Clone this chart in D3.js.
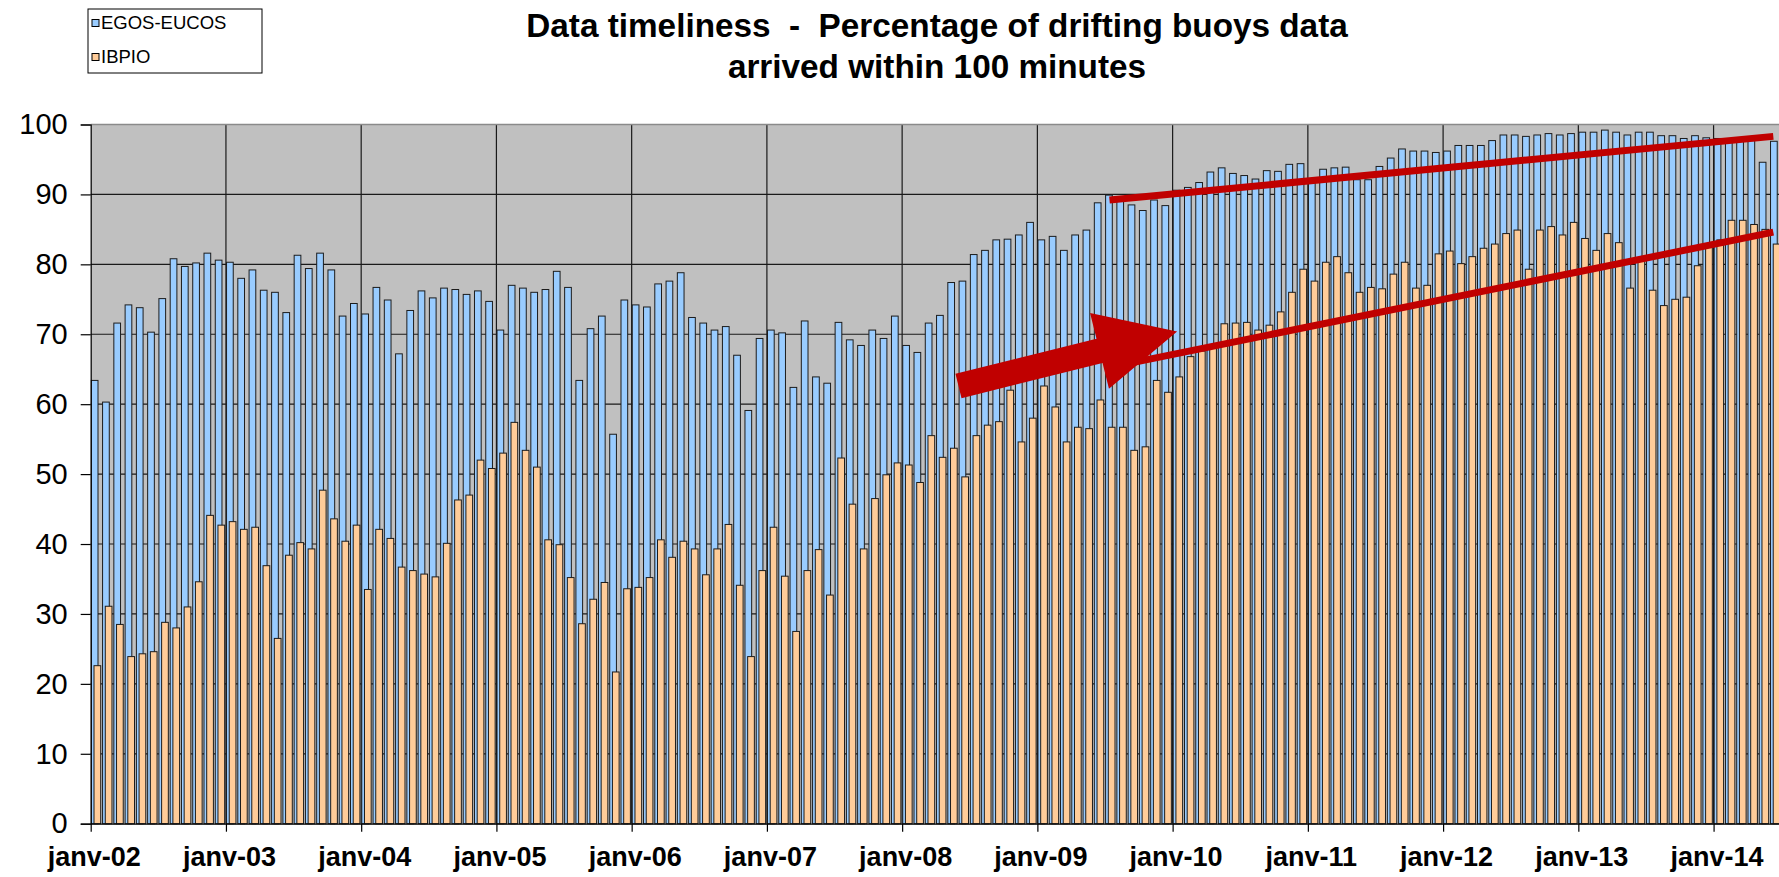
<!DOCTYPE html>
<html>
<head>
<meta charset="utf-8">
<script src="https://cdn.jsdelivr.net/npm/d3@7"></script>
<style>
  body { margin: 0; background: #fff; }
  text { font-family: "Liberation Sans", Arial, sans-serif; }
  .title { white-space: pre; }
</style>
</head>
<body>
<div id="chart"></div>
<script>
// monthly values, janv-02 .. juin-14 (150 months)
var egos = [
  63.4, 60.3, 71.6, 74.2, 73.8, 70.3, 75.1, 80.8, 79.7, 80.2, 81.6, 80.6,
  80.3, 78.0, 79.2, 76.3, 76.0, 73.1, 81.3, 79.4, 81.6, 79.2, 72.6, 74.4,
  72.9, 76.7, 74.9, 67.2, 73.4, 76.2, 75.2, 76.6, 76.4, 75.7, 76.2, 74.7,
  70.6, 77.0, 76.6, 76.0, 76.4, 79.0, 76.7, 63.4, 70.8, 72.6, 55.7, 74.9,
  74.2, 73.9, 77.2, 77.6, 78.8, 72.4, 71.6, 70.6, 71.1, 67.0, 59.1, 69.4,
  70.6, 70.2, 62.4, 71.9, 63.9, 63.0, 71.7, 69.2, 68.4, 70.6, 69.4, 72.6,
  68.4, 67.4, 71.6, 72.7, 77.4, 77.6, 81.4, 82.0, 83.5, 83.6, 84.2, 86.0,
  83.5, 84.0, 82.0, 84.2, 84.9, 88.8, 89.9, 89.1, 88.5, 87.7, 89.2, 88.4,
  90.6, 91.0, 91.7, 93.2, 93.8, 93.0, 92.7, 92.2, 93.4, 93.3, 94.3, 94.4,
  91.8, 93.6, 93.8, 93.9, 92.1, 92.1, 94.0, 95.2, 96.5, 96.2, 96.2, 96.0,
  96.2, 97.0, 97.0, 97.0, 97.7, 98.5, 98.5, 98.3, 98.5, 98.7, 98.5, 98.7,
  98.9, 98.9, 99.2, 98.9, 98.5, 98.9, 98.9, 98.4, 98.4, 98.0, 98.4, 98.1,
  98.0, 97.9, 97.8, 97.7, 94.6, 97.6
];
var ibpio = [
  22.6, 31.1, 28.5, 23.9, 24.3, 24.6, 28.8, 28.0, 31.0, 34.6, 44.1, 42.7,
  43.2, 42.1, 42.4, 36.9, 26.5, 38.4, 40.2, 39.3, 47.7, 43.6, 40.4, 42.7,
  33.5, 42.1, 40.8, 36.7, 36.2, 35.7, 35.3, 40.1, 46.3, 47.0, 52.0, 50.8,
  53.0, 57.4, 53.4, 51.0, 40.6, 39.9, 35.2, 28.6, 32.1, 34.5, 21.7, 33.6,
  33.8, 35.2, 40.6, 38.1, 40.4, 39.3, 35.6, 39.3, 42.8, 34.1, 23.9, 36.2,
  42.4, 35.4, 27.5, 36.2, 39.2, 32.7, 52.3, 45.7, 39.3, 46.5, 49.9, 51.6,
  51.3, 48.8, 55.5, 52.4, 53.7, 49.6, 55.5, 57.0, 57.5, 62.0, 54.6, 58.0,
  62.6, 59.6, 54.6, 56.7, 56.5, 60.6, 56.7, 56.7, 53.4, 53.9, 63.4, 61.7,
  63.9, 66.8, 67.6, 68.4, 71.5, 71.6, 71.7, 70.6, 71.3, 73.2, 76.0, 79.3,
  77.6, 80.3, 81.1, 78.8, 76.0, 76.7, 76.5, 78.6, 80.3, 76.6, 77.0, 81.5,
  81.9, 80.1, 81.1, 82.3, 82.9, 84.4, 84.9, 79.3, 84.9, 85.4, 84.2, 86.0,
  83.7, 82.0, 84.4, 83.1, 76.6, 80.5, 76.3, 74.1, 75.0, 75.3, 79.8, 82.5,
  83.5, 86.3, 86.3, 85.7, 85.0, 82.9
];
var seriesNames = ["EGOS-EUCOS", "IBPIO"];
var seriesColors = ["#99CCFF", "#FFCC99"];
var yTicks = [0, 10, 20, 30, 40, 50, 60, 70, 80, 90, 100];
var yearLabels = ["janv-02", "janv-03", "janv-04", "janv-05", "janv-06", "janv-07",
  "janv-08", "janv-09", "janv-10", "janv-11", "janv-12", "janv-13", "janv-14"];
var titleLines = ["Data timeliness  -  Percentage of drifting buoys data",
  "arrived within 100 minutes"];

// red annotations, in [month index, value]
var trendLines = [
  [[90.4, 89.2], [149.3, 98.3]],
  [[92.0, 65.8], [149.3, 84.6]]
];
var arrow = { from: [77.0, 62.6], to: [96.4, 70.4] };

var W = 1779, H = 877;
var margin = { left: 90.7, top: 124.5 };
var step = 11.27;
var plotBottom = 823.7;

var months = d3.timeMonth.range(new Date(2002, 0, 1), new Date(2014, 6, 1));
var rows = months.map(function(m, i) { return { i: i, egos: egos[i], ibpio: ibpio[i] }; });

var svg = d3.select("#chart").append("svg")
  .attr("width", W)
  .attr("height", H);

var x = d3.scaleBand()
  .domain(d3.range(months.length))
  .range([margin.left, margin.left + step * months.length])
  .paddingInner(0).paddingOuter(0);

// continuous month scale for ticks and annotations
var xm = d3.scaleLinear()
  .domain([0, months.length])
  .range([margin.left, margin.left + step * months.length]);

var y = d3.scaleLinear()
  .domain([0, 100])
  .range([plotBottom, margin.top]);

// plot background
svg.append("rect")
  .attr("x", margin.left).attr("y", margin.top)
  .attr("width", W - margin.left).attr("height", plotBottom - margin.top)
  .attr("fill", "#C0C0C0");

// gridlines
svg.append("g").selectAll("line")
  .data(yTicks.filter(function(d) { return d > 0 && d < 100; }))
  .enter().append("line")
    .attr("x1", margin.left).attr("x2", W)
    .attr("y1", function(d) { return y(d); }).attr("y2", function(d) { return y(d); })
    .attr("stroke", "#1a1a1a").attr("stroke-width", 1.2);

var yearIdx = yearLabels.map(function(d, i) { return i * 12; });
svg.append("g").selectAll("line")
  .data(yearIdx.slice(1))
  .enter().append("line")
    .attr("x1", function(d) { return xm(d); }).attr("x2", function(d) { return xm(d); })
    .attr("y1", margin.top).attr("y2", plotBottom)
    .attr("stroke", "#1a1a1a").attr("stroke-width", 1.2);

// bars
var bars = svg.append("g");
bars.selectAll(".egos")
  .data(rows)
  .enter().append("rect")
    .attr("class", "egos")
    .attr("x", function(d) { return x(d.i) + 0.6; })
    .attr("y", function(d) { return y(d.egos); })
    .attr("width", 6.7)
    .attr("height", function(d) { return plotBottom - y(d.egos); })
    .attr("fill", seriesColors[0])
    .attr("stroke", "#1c1c1c").attr("stroke-width", 1);

bars.selectAll(".ibpio")
  .data(rows)
  .enter().append("rect")
    .attr("class", "ibpio")
    .attr("x", function(d) { return x(d.i) + 3.3; })
    .attr("y", function(d) { return y(d.ibpio); })
    .attr("width", 6.7)
    .attr("height", function(d) { return plotBottom - y(d.ibpio); })
    .attr("fill", seriesColors[1])
    .attr("stroke", "#1c1c1c").attr("stroke-width", 1);

// top border
svg.append("line")
  .attr("x1", margin.left).attr("x2", W)
  .attr("y1", margin.top).attr("y2", margin.top)
  .attr("stroke", "#8a8a8a").attr("stroke-width", 1.5);

// axes
var yAxis = svg.append("g")
  .attr("transform", "translate(" + margin.left + ",0)")
  .call(d3.axisLeft(y).tickValues(yTicks).tickSize(10).tickPadding(13));
yAxis.selectAll("text")
  .style("font-size", "29px").attr("fill", "#000");
yAxis.selectAll("line, path").attr("stroke", "#000").attr("stroke-width", 1.2);

var xAxis = svg.append("g")
  .attr("transform", "translate(0," + plotBottom + ")")
  .call(d3.axisBottom(xm).tickValues(yearIdx).tickSize(8).tickSizeOuter(0)
    .tickFormat(function(d, i) { return yearLabels[i]; }).tickPadding(15));
xAxis.selectAll("text")
  .style("font-size", "27px").style("font-weight", "bold")
  .attr("fill", "#000").attr("dx", 3);
xAxis.selectAll("line, path").attr("stroke", "#000").attr("stroke-width", 1.2);

// red trend lines
var ann = svg.append("g");
ann.selectAll("line")
  .data(trendLines)
  .enter().append("line")
    .attr("x1", function(d) { return xm(d[0][0]); })
    .attr("y1", function(d) { return y(d[0][1]); })
    .attr("x2", function(d) { return xm(d[1][0]); })
    .attr("y2", function(d) { return y(d[1][1]); })
    .attr("stroke", "#C00000").attr("stroke-width", 7);

// block arrow
var ax0 = xm(arrow.from[0]), ay0 = y(arrow.from[1]);
var ax1 = xm(arrow.to[0]), ay1 = y(arrow.to[1]);
var len = Math.hypot(ax1 - ax0, ay1 - ay0);
var ux = (ax1 - ax0) / len, uy = (ay1 - ay0) / len;
var px = -uy, py = ux;
var shaftW = 12.5, headW = 39, headL = 80;
var bx = ax1 - ux * headL, by = ay1 - uy * headL;
var pts = [
  [ax0 + px * shaftW, ay0 + py * shaftW],
  [bx + px * shaftW, by + py * shaftW],
  [bx + px * headW, by + py * headW],
  [ax1, ay1],
  [bx - px * headW, by - py * headW],
  [bx - px * shaftW, by - py * shaftW],
  [ax0 - px * shaftW, ay0 - py * shaftW]
];
ann.append("path")
  .attr("d", d3.line()(pts) + "Z")
  .attr("fill", "#C00000");

// title
svg.append("g").selectAll("text")
  .data(titleLines)
  .enter().append("text")
    .attr("class", "title")
    .attr("x", 937)
    .attr("y", function(d, i) { return 37 + i * 41; })
    .attr("text-anchor", "middle")
    .style("font-size", "33.3px").style("font-weight", "bold")
    .text(function(d) { return d; });

// legend
var legend = svg.append("g");
legend.append("rect")
  .attr("x", 88).attr("y", 9).attr("width", 174).attr("height", 64)
  .attr("fill", "#fff").attr("stroke", "#000").attr("stroke-width", 1);
var items = legend.selectAll(".item")
  .data(seriesNames)
  .enter().append("g")
    .attr("transform", function(d, i) { return "translate(92," + (23 + i * 34) + ")"; });
items.append("rect")
  .attr("x", 0).attr("y", -3.5).attr("width", 7).attr("height", 7)
  .attr("fill", function(d, i) { return seriesColors[i]; })
  .attr("stroke", "#000").attr("stroke-width", 1);
items.append("text")
  .attr("x", 9).attr("y", 0).attr("dy", "0.35em")
  .style("font-size", "18.5px")
  .text(function(d) { return d; });
</script>
</body>
</html>
